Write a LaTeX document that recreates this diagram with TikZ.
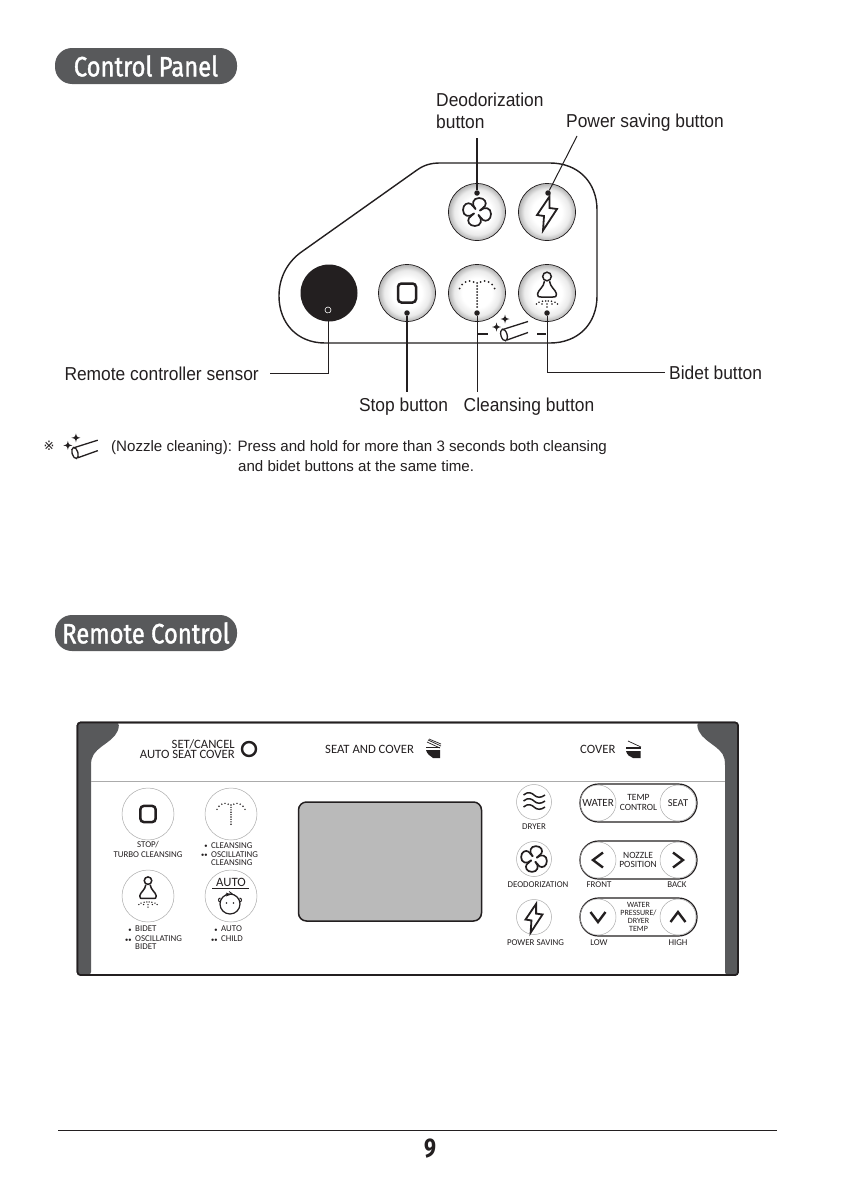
\documentclass[tikz,border=0pt]{standalone}
\usepackage{fontspec}
\setmainfont{Liberation Sans}
\newfontfamily\labfont[FakeStretch=0.93]{Liberation Sans}
\newfontfamily\headfont[FakeStretch=0.85,FakeBold=1.3]{Fira Sans}
\newfontfamily\numfont[FakeStretch=0.79]{Fira Sans}
\newfontfamily\remfont{Carlito}
\newfontfamily\symfont{DejaVu Sans}
\usetikzlibrary{calc}
\definecolor{ink}{HTML}{231F20}
\definecolor{band}{HTML}{58595B}
\definecolor{softgray}{HTML}{ABABAB}
\newcommand{\onebul}{\llap{\raisebox{.6pt}{$\scriptscriptstyle\bullet$}\kern3.4pt}}
\newcommand{\twobul}{\llap{\raisebox{.6pt}{$\scriptscriptstyle\bullet\kern-.4pt\bullet$}\kern3.4pt}}
\pgfdeclareradialshading{btnshade}{\pgfpoint{0bp}{0bp}}{color(0bp)=(white); color(13bp)=(white); color(20bp)=(black!8); color(25bp)=(black!30); color(50bp)=(black!30)}
\tikzset{
 x=1pt,y=-1pt,
 heading/.style={fill=band,rounded corners=17pt,minimum width=182pt,minimum height=36pt,inner sep=0pt,text=white,font=\headfont\fontsize{28}{28}\selectfont},
 plabel/.style={inner sep=0pt,text=ink,font=\labfont\fontsize{18.7}{22}\selectfont},
 note/.style={inner sep=0pt,text=ink,font=\fontsize{15.1}{19}\selectfont,anchor=base west},
 btn/.style={circle,draw=ink,line width=.7pt,minimum size=57pt,inner sep=0pt,shading=btnshade},
 leader/.style={draw=ink,line width=1pt},
 heavyleader/.style={draw=ink,line width=1.6pt},
 rt/.style={inner sep=0pt,text=ink,align=center,font=\remfont\fontsize{8.9}{7.6}\selectfont},
 rts/.style={inner sep=0pt,text=ink,font=\remfont\fontsize{12.7}{10}\selectfont},
 rbtn/.style={circle,draw=softgray,line width=.5pt,minimum size=52pt,inner sep=0pt},
 rbtnsm/.style={circle,draw=softgray,line width=.5pt,minimum size=35pt,inner sep=0pt},
 pill/.style={rectangle,rounded corners=18.5pt,draw=ink,line width=1.2pt,minimum width=117pt,minimum height=38pt,inner sep=0pt},
 dotpt/.style={circle,fill=ink,minimum size=5.5pt,inner sep=0pt},
 pics/fan/.style={code={
   \foreach \a in {0,90,180,270}{
   \draw[ink,line width=1.7pt,line join=round,line cap=round,rotate=\a]
     (-1.5,-3) .. controls (-6,-8) and (-4,-14) .. (2,-14)
     .. controls (8,-14) and (10,-9) .. (8,-6)
     .. controls (6,-3.5) and (4,-3) .. (3,-1.5);}
 }},
 pics/bolt/.style={code={
   \draw[ink,line width=1.8pt,line join=miter]
     (2.5,-15.5) -- (-10,3) -- (-3,4) -- (-4,18.5) -- (10,-3) -- (2.5,-4) -- cycle;
 }},
 pics/stopsq/.style={code={
   \draw[ink,line width=2.5pt,rounded corners=3.5pt] (-9,-9.5) rectangle (9,9.5);
 }},
 pics/spray/.style={code={
   \foreach \yy in {-10,-7,-4,-1,2,5,8,11,14}{\fill[ink] (0,\yy) circle (1);}
   \foreach \xx/\yy in {-17.5/-4.5,-15/-8.5,-11.5/-11,-7.5/-12,-3.5/-11,3.5/-11,7.5/-12,11.5/-11,15/-8.5,17.5/-4.5}{\fill[ink] (\xx,\yy) circle (1);}
 }},
 pics/bidet/.style={code={
   \draw[ink,line width=1.5pt] (0,-16.5) circle (4.3);
   \draw[ink,line width=1.5pt,line join=round] (-2.5,-11.8) .. controls (-3,-6) and (-9,-3) .. (-9.5,1) .. controls (-10,4) and (-8,4) .. (-6,4) -- (6,4) .. controls (8,4) and (10,4) .. (9.5,1) .. controls (9,-3) and (3,-6) .. (2.5,-11.8);
   \foreach \xx/\yy in {-10.5/11,-8/9.3,-4.5/8.3,-1.2/8,1.2/8,4.5/8.3,8/9.3,10.5/11,0/11,0/14,-5/11,5/11}{\fill[ink] (\xx,\yy) circle (.85);}
 }},
 pics/spark/.style={code={
   \fill[ink] (0,-4.5) .. controls (.8,-.9) .. (4.5,0) .. controls (.8,.9) .. (0,4.5) .. controls (-.8,.9) .. (-4.5,0) .. controls (-.8,-.9) .. cycle;
 }},
 pics/nozzle/.style={code={
   \draw[ink,line width=1.3pt,rotate=16] (0,0) ellipse [x radius=3.1,y radius=6];
   \draw[ink,line width=1.3pt] (-1,-5.6) -- (24,-13.5);
   \draw[ink,line width=1.3pt] (3,5) -- (24,-2.5);
   \pic at (-7.5,-8) {spark};
   \pic at (1,-16) {spark};
 }},
 pics/chev/.style={code={
   \draw[ink,line width=2.4pt,line join=miter] (5,-7.5) -- (-5,0) -- (5,7.5);
 }},
}
\begin{document}
\begin{tikzpicture}
\useasboundingbox[fill=white] (0,0) rectangle (842,1191);

% ---------- Control panel ----------
\node[heading] (hpanel) at (146,66) {Control Panel};

\draw[ink,line width=1.4pt] (440,163) -- (550,163) .. controls (578,163) and (597,182) .. (597,210)
  -- (597,296) .. controls (597,324) and (578,343) .. (550,343) -- (325,343)
  .. controls (297,343) and (279,323) .. (279,296) .. controls (279,278) and (287,263) .. (300,253)
  -- (417,170) .. controls (424,165) and (431,163) .. (440,163);

\node[btn] (bfan) at (477,212) {};
\node[btn] (bbolt) at (547,212) {};
\node[circle,fill=ink,minimum size=57pt,inner sep=0pt] (bsensor) at (329,293) {};
\node[btn] (bstop) at (407,293) {};
\node[btn] (bclean) at (477,293) {};
\node[btn] (bbidet) at (547,293) {};
\pic at (bfan) {fan};
\pic at (bbolt) {bolt};
\pic at (bstop) {stopsq};
\pic at (bclean) {spray};
\pic at (bbidet) {bidet};
\pic at (504,335) {nozzle};
\draw[ink,line width=1.1pt] (478,334) -- (488,334) (537,334) -- (546,334);

\node[plabel,anchor=north west,align=left] (ldeo) at (436,93) {Deodorization\\button};
\node[plabel,anchor=west] (lpow) at (566,123) {Power saving button};
\node[plabel,anchor=east] (lsen) at (259,374) {Remote controller sensor};
\node[plabel,anchor=center] (lstop) at (403.5,407) {Stop button};
\node[plabel,anchor=center] (lclean) at (529,407) {Cleansing button};
\node[plabel,anchor=west] (lbid) at (669,373) {Bidet button};

\node[dotpt] (dfan) at (477,193) {};
\node[dotpt] (dbolt) at (548,193) {};
\node[dotpt] (dstop) at (407,313) {};
\node[dotpt] (dclean) at (477,313) {};
\node[dotpt] (dbid) at (547,313) {};
\node[circle,draw=white,line width=.6pt,minimum size=6pt,inner sep=0pt] (dsen) at (328,310) {};
\coordinate (pend) at (577,136);
\coordinate (dend) at (477,138);
\coordinate (send) at (270,373);
\coordinate (bend) at (665,372);
\coordinate (lowend) at (0,392);

\draw[heavyleader] (dend) -- (dfan);
\draw[leader] (pend) -- (dbolt);
\draw[leader] (dsen.south) |- (send);
\draw[heavyleader] (dstop) -- (dstop |- lowend);
\draw[leader] (dclean) -- (dclean |- lowend);
\draw[leader] (dbid) |- (bend);

% note
\node[inner sep=0pt,text=ink,font=\symfont\fontsize{13}{13}\selectfont] (nmark) at (49,446) {※};
\pic[scale=.95] at (75,453) {nozzle};
\node[note] (n1) at (111,451) {(Nozzle cleaning): Press and hold for more than 3 seconds both cleansing};
\node[note] (n2) at (238,471) {and bidet buttons at the same time.};

% ---------- Remote control ----------
\node[heading] (hremote) at (146,633) {Remote Control};

\filldraw[fill=white,draw=ink,line width=1.6pt,rounded corners=3pt] (77.5,722.5) rectangle (738,975);
\fill[band,rounded corners=3pt] (77.5,722.5) -- (119,722.5) .. controls (118,742) and (95,745) .. (91,762) -- (91,975) -- (77.5,975) -- cycle;
\fill[band,rounded corners=3pt] (738,722.5) -- (697,722.5) .. controls (699,742) and (722,745) .. (725,762) -- (725,975) -- (738,975) -- cycle;
\draw[ink,line width=1.6pt,rounded corners=3pt] (77.5,722.5) rectangle (738,975);
\draw[softgray,line width=.9pt] (91,781) -- (725,781);

\node[rts,anchor=east] (tset) at (235,744) {SET/CANCEL};
\node[rts,anchor=east] (tauc) at (235,754.5) {AUTO SEAT COVER};
\node[circle,draw=ink,line width=2.4pt,minimum size=14pt,inner sep=0pt] (ring) at (249,749) {};
\node[rts,anchor=west] (tsc) at (325,749) {SEAT AND COVER};
\node[rts,anchor=west] (tcov) at (580,749) {COVER};
% seat and cover symbol
\fill[ink] (426,750) -- (440,750) -- (440,758) -- (433,758) .. controls (430,756) and (427,754) .. (426,750);
\draw[ink,line width=1.2pt] (426,747.5) -- (440,747.5);
\draw[ink,line width=.7pt] (428,740) -- (441,746) (427,742) -- (440,748) (429,739) -- (441,744);
% cover symbol
\fill[ink] (626,751) -- (640.5,751) -- (640.5,758) -- (633,758) .. controls (630,757) and (627,755) .. (626,751);
\draw[ink,line width=1.2pt] (626,748) -- (640.5,748);
\draw[ink,line width=.7pt] (628,741) -- (641,747);

\node[rbtn] (rstop) at (148,814) {};
\node[rbtn] (rclean) at (231,814) {};
\node[rbtn] (rbidet) at (148,896) {};
\node[rbtn] (rauto) at (231,896) {};
\pic[scale=.85] at (148,814) {stopsq};
\pic[scale=.8] at ($(rclean)+(0,-1)$) {spray};
\pic[scale=.87] at (148,895) {bidet};
\node[rt,font=\remfont\fontsize{12.7}{10}\selectfont] (tauto) at (231,882.5) {AUTO};
\draw[ink,line width=.8pt] (212,888) -- (249,888);
\draw[ink,line width=1.2pt] (230,904) circle (10);
\draw[ink,line width=1pt] (220.5,902) arc[start angle=90,end angle=270,radius=2];
\draw[ink,line width=1pt] (239.5,902) arc[start angle=90,end angle=-90,radius=2];
\fill[ink] (226.5,903) circle (.8) (233.5,903) circle (.8);
\draw[ink,line width=.8pt] (226,893) -- (230,894.5) -- (226,896) (229,891.5) -- (232,893.5) -- (229,895);

\node[rt] (tstop) at (148,845) {STOP/};
\node[rt] (tturbo) at (148,855) {TURBO CLEANSING};
\node[rt,anchor=west] (tc1) at (211,845.5) {\onebul CLEANSING};
\node[rt,anchor=west] (tc2) at (211,854.5) {\twobul OSCILLATING};
\node[rt,anchor=west] (tc3) at (211,862.5) {CLEANSING};
\node[rt,anchor=west] (tb1) at (135,929) {\onebul BIDET};
\node[rt,anchor=west] (tb2) at (135,939) {\twobul OSCILLATING};
\node[rt,anchor=west] (tb3) at (135,947) {BIDET};
\node[rt,anchor=west] (ta1) at (221,929) {\onebul AUTO};
\node[rt,anchor=west] (ta2) at (221,939) {\twobul CHILD};

\filldraw[fill=black!27,draw=ink,line width=1.5pt,rounded corners=8pt] (298.5,802) rectangle (481.5,921);

\node[rbtnsm] (rdry) at (534,802) {};
\node[rbtnsm] (rfan) at (534,859) {};
\node[rbtnsm] (rbolt) at (534,917) {};
\foreach \yy in {-6,0,6}{
  \draw[ink,line width=1.5pt] ($(rdry)+(-10.5,\yy-1)$) .. controls ($(rdry)+(-6,\yy-5)$) and ($(rdry)+(-2,\yy-3)$) .. ($(rdry)+(0,\yy-1)$) .. controls ($(rdry)+(3,\yy+2)$) and ($(rdry)+(7,\yy+2)$) .. ($(rdry)+(11,\yy-1)$);
}
\pic[scale=.92] at (rfan) {fan};
\pic[scale=.85] at (rbolt) {bolt};
\node[rt] (tdry) at (534,827) {DRYER};
\node[rt] (tdeo) at (538,885) {DEODORIZATION};
\node[rt] (tpow) at (535.5,943) {POWER SAVING};

\node[pill] (p1) at (638.5,803) {};
\node[pill] (p2) at (638.5,860) {};
\node[pill] (p3) at (638.5,917) {};
\foreach \p/\n in {p1/a,p2/b,p3/c}{
  \node[circle,draw=softgray,line width=.5pt,minimum size=36pt,inner sep=0pt] (l\n) at ($(\p)+(-40.5,0)$) {};
  \node[circle,draw=softgray,line width=.5pt,minimum size=36pt,inner sep=0pt] (r\n) at ($(\p)+(39.5,0)$) {};
}
\node[rts,font=\remfont\fontsize{11}{10}\selectfont] (twater) at (la) {WATER};
\node[rts,font=\remfont\fontsize{10.5}{10}\selectfont] (tseat) at (ra) {SEAT};
\node[rt,font=\remfont\fontsize{9.5}{8}\selectfont] (ttemp) at (638.5,797) {TEMP};
\node[rt,font=\remfont\fontsize{9.5}{8}\selectfont] (tctl) at (638.5,807) {CONTROL};
\pic at (lb) {chev};
\pic[xscale=-1] at (rb) {chev};
\node[rt,font=\remfont\fontsize{9.5}{8}\selectfont] (tnoz) at (638,855) {NOZZLE};
\node[rt,font=\remfont\fontsize{9.5}{8}\selectfont] (tpos) at (638,864.5) {POSITION};
\pic[rotate=90] at (lc) {chev};
\pic[rotate=-90] at (rc) {chev};
\node[rt,font=\remfont\fontsize{8}{8.2}\selectfont] (twat) at (638.5,917) {WATER\\PRESSURE/\\DRYER\\TEMP};
\node[rt] (tfront) at (599,885) {FRONT};
\node[rt] (tback) at (677,885) {BACK};
\node[rt] (tlow) at (599,943) {LOW};
\node[rt] (thigh) at (678,943) {HIGH};

% ---------- Footer ----------
\draw[ink,line width=1pt] (58,1130) -- (777,1130);
\node[inner sep=0pt,text=ink,font=\numfont\bfseries\fontsize{27}{27}\selectfont] (pnum) at (430,1149) {9};
\end{tikzpicture}
\end{document}
